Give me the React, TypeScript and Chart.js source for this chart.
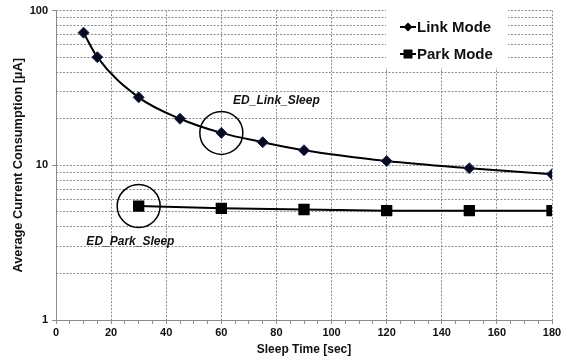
import React, { useEffect, useRef } from "react";
import { Chart, registerables } from "chart.js";

Chart.register(...registerables);

const sleepTimes = [10, 15, 30, 45, 60, 75, 90, 120, 150, 180];
const linkMode = [72, 50, 27.5, 20, 16.2, 14.1, 12.5, 10.65, 9.57, 8.76];
const parkTimes = [30, 60, 90, 120, 150, 180];
const parkMode = [5.45, 5.27, 5.18, 5.09, 5.09, 5.09];

const xTickValues = [0, 5, 10, 15, 20, 25, 30, 35, 40, 45, 50, 55, 60, 65, 70, 75, 80, 85, 90, 95, 100, 105, 110, 115, 120, 125, 130, 135, 140, 145, 150, 155, 160, 165, 170, 175, 180];
const xLabelValues = [0, 20, 40, 60, 80, 100, 120, 140, 160, 180];
const yTickValues = [1, 2, 3, 4, 5, 6, 7, 8, 9, 10, 20, 30, 40, 50, 60, 70, 80, 90, 100];
const yLabelValues = [1, 10, 100];

const annotations = [
  { text: "ED_Link_Sleep", circleX: 60, circleY: 16.2, labelX: 80, labelY: 26 },
  { text: "ED_Park_Sleep", circleX: 30, circleY: 5.45, labelX: 27, labelY: 3.23 },
];

const FONT = "'Liberation Sans', Arial, sans-serif";
const GRID = "#8c8c8c";

const overlayPlugin = {
  id: "overlay",
  beforeDatasetsDraw(chart: any) {
    const ctx = chart.ctx;
    const a = chart.chartArea;
    ctx.save();
    ctx.strokeStyle = GRID;
    ctx.lineWidth = 1;
    ctx.setLineDash([]);
    ctx.beginPath();
    ctx.moveTo(Math.round(a.left) + 0.5, a.top);
    ctx.lineTo(Math.round(a.left) + 0.5, Math.round(a.bottom) + 0.5);
    ctx.lineTo(a.right, Math.round(a.bottom) + 0.5);
    ctx.stroke();
    ctx.restore();
  },
  afterDatasetsDraw(chart: any) {
    const ctx = chart.ctx;
    const xs = chart.scales.x;
    const ys = chart.scales.y;
    ctx.save();
    for (const a of annotations) {
      const cx = xs.getPixelForValue(a.circleX);
      const cy = ys.getPixelForValue(a.circleY);
      ctx.beginPath();
      ctx.arc(cx, cy, 21.5, 0, Math.PI * 2);
      ctx.lineWidth = 1.5;
      ctx.strokeStyle = "#000";
      ctx.stroke();
      ctx.font = `italic bold 12px ${FONT}`;
      ctx.fillStyle = "#111";
      ctx.textAlign = "center";
      ctx.textBaseline = "middle";
      ctx.fillText(a.text, xs.getPixelForValue(a.labelX), ys.getPixelForValue(a.labelY));
    }
    ctx.fillStyle = "#fff";
    ctx.fillRect(386, 10, 122, 58);
    const ds = chart.data.datasets;
    const rows = [27, 54];
    ds.forEach((d: any, i: number) => {
      const y = rows[i];
      ctx.beginPath();
      ctx.moveTo(400, y);
      ctx.lineTo(416, y);
      ctx.lineWidth = 2;
      ctx.strokeStyle = "#000";
      ctx.stroke();
      ctx.fillStyle = "#000";
      ctx.beginPath();
      if (d.pointStyle === "rectRot") {
        ctx.moveTo(408, y - 4.5);
        ctx.lineTo(412.5, y);
        ctx.lineTo(408, y + 4.5);
        ctx.lineTo(403.5, y);
        ctx.closePath();
      } else {
        ctx.rect(403.5, y - 4.5, 9, 9);
      }
      ctx.fill();
      ctx.font = `bold 15px ${FONT}`;
      ctx.textAlign = "left";
      ctx.textBaseline = "middle";
      ctx.fillStyle = "#111";
      ctx.fillText(d.label, 417, y + 1);
    });
    ctx.restore();
  },
};

export default function App() {
  const ref = useRef<HTMLCanvasElement>(null);
  useEffect(() => {
    const chart = new Chart(ref.current!, {
      type: "line",
      data: {
        datasets: [
          {
            label: "Link Mode",
            data: sleepTimes.map((x, i) => ({ x, y: linkMode[i] })),
            borderColor: "#000",
            borderWidth: 2,
            backgroundColor: "#0a0a1e",
            pointBackgroundColor: "#0a0a1e",
            pointBorderColor: "#1a2a5a",
            pointBorderWidth: 1,
            pointStyle: "rectRot",
            pointRadius: 5.5,
            cubicInterpolationMode: "monotone",
          },
          {
            label: "Park Mode",
            data: parkTimes.map((x, i) => ({ x, y: parkMode[i] })),
            borderColor: "#000",
            borderWidth: 2,
            backgroundColor: "#000",
            pointBackgroundColor: "#000",
            pointBorderColor: "#000",
            pointStyle: "rect",
            pointRadius: 6.6,
          },
        ],
      } as any,
      options: {
        responsive: false,
        animation: false,
        events: [],
        layout: { padding: { top: 6, right: 22, left: 0, bottom: 0 } },
        plugins: { legend: { display: false }, tooltip: { enabled: false } },
        scales: {
          x: {
            type: "linear",
            min: 0,
            max: 180,
            afterFit: (s: any) => { s.height = 42; },
            afterBuildTicks: (s: any) => { s.ticks = xTickValues.map((v) => ({ value: v })); },
            ticks: {
              autoSkip: false,
              maxRotation: 0,
              padding: 2,
              color: "#111",
              font: { family: FONT, size: 11, weight: "bold" },
              callback: (v: any) => (xLabelValues.includes(v) ? String(v) : ""),
            },
            grid: {
              color: (c: any) => {
                const v = c.tick?.value;
                if (v === 0) return "rgba(0,0,0,0)";
                return xLabelValues.includes(v) ? GRID : "rgba(0,0,0,0)";
              },
              tickColor: GRID,
              tickLength: 4,
              lineWidth: 1,
            },
            border: { display: false, color: GRID, width: 1, dash: [2, 1.5] },
            title: {
              display: true,
              text: "Sleep Time [sec]",
              color: "#111",
              font: { family: FONT, size: 12, weight: "bold" },
              padding: { top: 0, bottom: 5 },
            },
          },
          y: {
            type: "logarithmic",
            min: 1,
            max: 100,
            afterFit: (s: any) => { s.width = 56; },
            afterBuildTicks: (s: any) => { s.ticks = yTickValues.map((v) => ({ value: v })); },
            ticks: {
              autoSkip: false,
              padding: 4,
              color: "#111",
              font: { family: FONT, size: 11, weight: "bold" },
              callback: (v: any) => (yLabelValues.includes(v) ? String(v) : ""),
            },
            grid: {
              color: (c: any) => (c.tick?.value === 1 ? "rgba(0,0,0,0)" : GRID),
              tickColor: (c: any) => (yLabelValues.includes(c.tick?.value) ? GRID : "rgba(0,0,0,0)"),
              tickLength: 4,
              lineWidth: 1,
            },
            border: { display: false, color: GRID, width: 1, dash: [2, 1.5] },
            title: {
              display: true,
              text: "Average Current Consumption [µA]",
              color: "#111",
              font: { family: FONT, size: 12.8, weight: "bold" },
              padding: { top: 11, bottom: 0 },
            },
          },
        },
      } as any,
      plugins: [overlayPlugin],
    });
    return () => chart.destroy();
  }, []);
  return (
    <div style={{ position: "fixed", left: 0, top: 0, width: 574, height: 362, background: "#fff" }}>
      <canvas ref={ref} width={574} height={362} />
    </div>
  );
}
